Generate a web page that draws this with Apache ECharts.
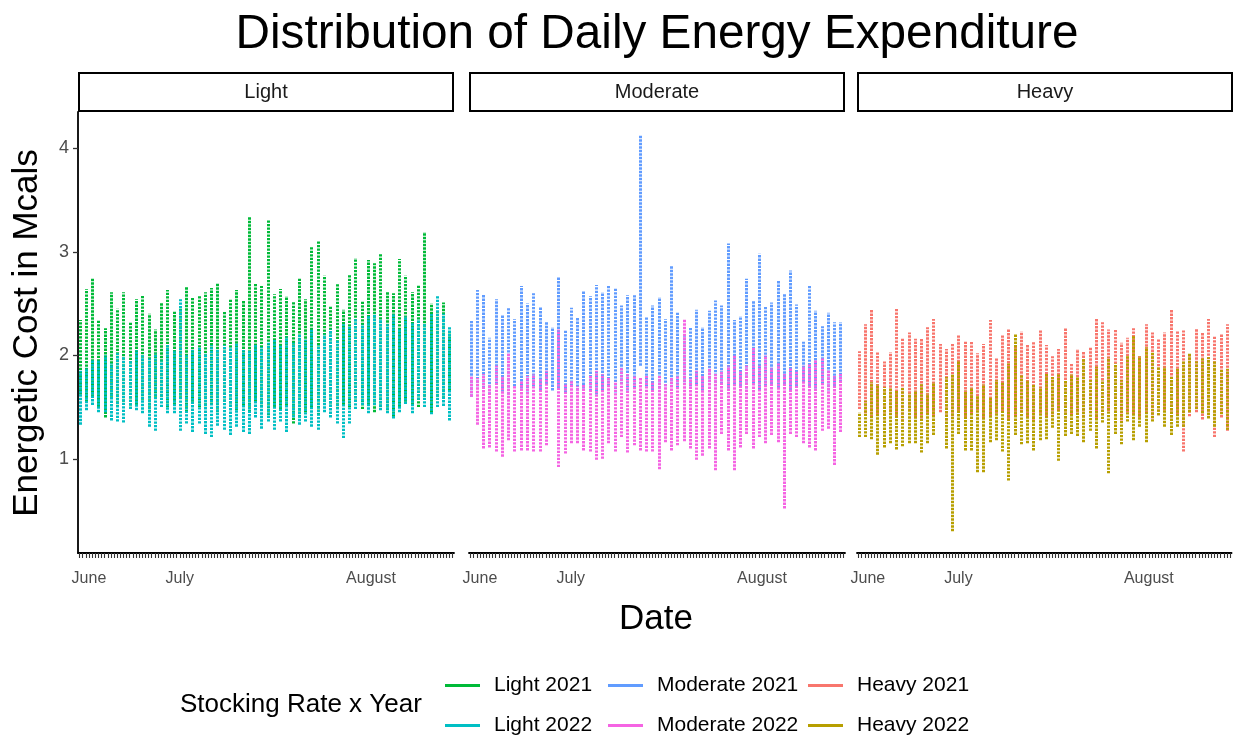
<!DOCTYPE html>
<html>
<head>
<meta charset="utf-8">
<script src="https://cdn.jsdelivr.net/npm/echarts@6/dist/echarts.min.js"></script>
<style>
html,body{margin:0;padding:0;background:#fff;}
#chart{width:1233px;height:738px;}
</style>
</head>
<body>
<div id="chart"></div>
<script>
// ---- axis categories: 120 daily slots, measurements on every second slot ----
const slotCount = 120;
const monthLabels = ['June', 'July', 'August'];
const monthSlots = [3, 32, 93];
const stripSlots = [0,2,4,6,8,10,12,14,16,18,20,22,24,26,28,30,32,34,36,38,40,42,44,46,48,50,52,54,56,58,
  60,62,64,66,68,70,72,74,76,78,80,82,84,86,88,90,92,94,96,98,100,102,104,106,108,110,112,114,116,118];
const yTicks = [1, 2, 3, 4];

const panels = ['Light', 'Moderate', 'Heavy'];
const seriesNames = ['Light 2021', 'Light 2022', 'Moderate 2021', 'Moderate 2022', 'Heavy 2021', 'Heavy 2022'];

// ---- daily min / max energetic cost (Mcal) per strip ----
const light2021Lo = [1.62,1.55,1.60,1.50,1.40,1.58,1.50,1.55,1.48,1.52,1.57,1.45,1.60,1.60,1.50,1.52,1.58,1.45,1.55,1.50,1.48,1.52,1.45,1.55,1.50,1.47,1.52,1.45,1.55,1.50,1.42,1.50,1.48,1.52,1.34,1.40,1.45,1.50,1.42,1.55,1.50,1.48,1.52,1.50,1.55,1.48,1.52,1.45,1.50,1.47,1.40,1.50,1.55,1.52,1.50,1.60,1.45,1.60,1.58,1.65];
const light2021Hi = [2.34,2.64,2.74,2.34,2.26,2.61,2.45,2.61,2.32,2.54,2.58,2.40,2.25,2.51,2.63,2.42,2.47,2.66,2.56,2.57,2.61,2.65,2.69,2.42,2.54,2.63,2.53,3.34,2.69,2.67,3.31,2.59,2.64,2.57,2.52,2.74,2.54,3.05,3.10,2.77,2.48,2.69,2.44,2.78,2.94,2.53,2.92,2.89,2.98,2.61,2.60,2.93,2.77,2.61,2.68,3.19,2.50,2.42,2.51,2.21];
const light2022Lo = [1.33,1.47,1.52,1.45,1.45,1.37,1.36,1.35,1.48,1.47,1.44,1.31,1.27,1.50,1.44,1.44,1.27,1.34,1.26,1.34,1.24,1.21,1.32,1.28,1.23,1.31,1.26,1.24,1.40,1.29,1.36,1.28,1.36,1.26,1.40,1.33,1.36,1.31,1.28,1.45,1.40,1.34,1.20,1.34,1.48,1.52,1.44,1.52,1.47,1.44,1.39,1.45,1.53,1.44,1.57,1.50,1.43,1.50,1.51,1.37];
const light2022Hi = [1.85,1.88,1.95,1.95,2.00,1.92,2.02,1.98,1.95,2.05,2.00,1.97,2.02,1.95,2.10,2.05,2.54,2.00,2.05,2.08,2.02,2.10,2.05,2.10,2.08,2.12,2.05,2.05,2.10,2.08,2.12,2.15,2.10,2.18,2.12,2.20,2.15,2.25,2.10,2.20,2.25,2.15,2.30,2.28,2.35,2.30,2.38,2.40,2.35,2.30,2.40,2.25,2.38,2.32,2.35,2.30,2.40,2.58,2.40,2.27];

const moderate2021Lo = [1.60,1.70,1.68,1.62,1.72,1.65,1.62,1.70,1.68,1.65,1.70,1.66,1.72,1.66,1.68,1.64,1.70,1.66,1.68,1.65,1.62,1.66,1.70,1.64,1.72,1.66,1.68,1.90,1.70,1.66,1.68,1.70,1.72,1.68,1.74,1.70,1.72,1.66,1.74,1.70,1.72,1.68,1.72,1.70,1.68,1.72,1.66,1.70,1.72,1.68,1.72,1.66,1.70,1.74,1.70,1.68,1.72,1.66,1.70,1.74];
const moderate2021Hi = [2.33,2.63,2.59,2.17,2.54,2.39,2.46,2.35,2.67,2.50,2.60,2.47,2.32,2.27,2.76,2.25,2.46,2.36,2.62,2.57,2.68,2.61,2.68,2.65,2.48,2.58,2.58,4.12,2.37,2.48,2.56,2.35,2.86,2.41,2.21,2.27,2.44,2.27,2.43,2.53,2.48,3.08,2.34,2.38,2.74,2.53,2.98,2.47,2.51,2.72,2.60,2.82,2.49,2.13,2.67,2.43,2.28,2.41,2.32,2.32];
const moderate2022Lo = [1.60,1.33,1.10,1.11,1.07,1.02,1.18,1.07,1.08,1.08,1.07,1.07,1.13,null,0.92,1.05,1.15,1.15,1.08,1.07,0.99,1.00,1.15,1.07,1.21,1.06,1.13,1.08,1.07,1.07,0.90,1.16,1.08,1.13,1.17,1.10,0.99,1.03,1.10,0.89,1.24,1.08,0.89,1.11,1.24,1.10,1.21,1.15,1.23,1.16,0.52,1.24,1.21,1.15,1.11,1.08,1.27,1.29,0.94,1.26];
const moderate2022Hi = [1.80,1.78,1.82,1.72,1.90,1.80,2.02,1.70,1.75,1.80,1.82,1.78,1.85,null,2.25,1.72,1.75,1.70,1.72,1.80,1.85,1.82,1.78,1.75,1.88,1.82,1.80,1.78,1.80,1.75,1.80,1.72,1.78,1.80,2.35,1.78,1.85,1.80,1.88,1.82,1.85,1.90,2.00,1.85,1.90,2.08,1.90,2.00,1.88,1.92,1.82,1.88,1.85,1.90,1.92,1.95,1.98,1.85,1.80,1.82];

const heavy2021Lo = [1.48,1.44,1.40,1.43,1.38,1.45,1.41,1.36,1.46,1.40,1.39,1.44,1.42,1.45,1.37,1.41,1.46,1.40,1.43,1.47,1.39,1.41,1.44,1.46,1.38,1.42,1.45,1.40,1.36,1.44,1.41,1.43,1.47,1.39,1.42,1.45,1.40,1.44,1.38,1.42,1.46,1.41,1.37,1.45,1.43,1.40,1.44,1.39,1.42,1.47,1.40,1.43,1.07,1.41,1.45,1.38,1.42,1.21,1.40,1.27];
const heavy2021Hi = [2.04,2.30,2.44,2.03,1.94,2.03,2.45,2.16,2.22,2.16,2.16,2.27,2.35,2.11,2.06,2.11,2.19,2.13,2.14,2.02,2.11,2.34,1.97,2.19,2.25,2.08,2.23,2.10,2.13,2.24,2.10,1.99,2.06,2.26,1.92,2.06,2.04,2.08,2.36,2.32,2.25,2.25,2.12,2.17,2.26,1.99,2.30,2.22,2.16,2.22,2.44,2.23,2.24,2.02,2.26,2.22,2.35,2.18,2.21,2.30];
const heavy2022Lo = [1.21,1.21,1.19,1.04,1.11,1.15,1.09,1.12,1.15,1.15,1.06,1.15,1.23,null,1.10,0.30,1.24,1.08,1.08,0.87,0.87,1.16,1.18,1.07,0.79,1.23,1.14,1.15,1.08,1.18,1.19,1.30,0.98,1.22,1.24,1.22,1.16,1.27,1.10,1.35,0.86,1.24,1.14,1.36,1.18,1.31,1.16,1.36,1.42,1.31,1.23,1.31,1.31,1.45,1.48,1.44,1.39,1.31,1.43,1.28];
const heavy2022Hi = [1.45,1.56,1.74,1.72,1.69,1.68,1.66,1.69,1.63,1.66,1.72,1.63,1.74,null,1.79,1.82,1.95,1.66,1.69,1.61,1.72,1.60,1.76,1.74,1.92,2.21,1.81,1.76,1.72,1.69,1.82,1.79,1.82,1.76,1.82,1.79,1.97,1.76,1.89,1.76,1.98,1.92,1.76,2.00,2.19,1.99,2.08,2.03,1.89,1.89,1.79,1.87,1.94,2.02,1.94,1.97,1.98,1.94,1.87,1.87];

// ---- styling ----
const colors = {
  'Light 2021': '#00BA38', 'Light 2022': '#00BFC4',
  'Moderate 2021': '#619CFF', 'Moderate 2022': '#F564E3',
  'Heavy 2021': '#F8766D', 'Heavy 2022': '#B79F00'
};
const FONT = '"Liberation Sans", Arial, Helvetica, sans-serif';
const gridBoxes = [
  {left: 78, width: 376},
  {left: 469, width: 376},
  {left: 857, width: 376}
];
const gridTop = 112, gridHeight = 441;
const yMin = 0.09, yMax = 4.35;

const slotNames = [];
for (let i = 0; i < slotCount; i++) slotNames.push(String(i));
const labelAt = {};
monthSlots.forEach((s, k) => { labelAt[s] = monthLabels[k]; });

const seriesDefs = [
  {name: 'Light 2021', grid: 0, lo: light2021Lo, hi: light2021Hi},
  {name: 'Light 2022', grid: 0, lo: light2022Lo, hi: light2022Hi},
  {name: 'Moderate 2021', grid: 1, lo: moderate2021Lo, hi: moderate2021Hi},
  {name: 'Moderate 2022', grid: 1, lo: moderate2022Lo, hi: moderate2022Hi},
  {name: 'Heavy 2021', grid: 2, lo: heavy2021Lo, hi: heavy2021Hi},
  {name: 'Heavy 2022', grid: 2, lo: heavy2022Lo, hi: heavy2022Hi}
];

const series = seriesDefs.map(def => {
  const data = [];
  def.lo.forEach((l, i) => {
    if (l == null || def.hi[i] == null) return;
    data.push([stripSlots[i], l, def.hi[i]]);
  });
  const color = colors[def.name];
  return {
    name: def.name,
    type: 'custom',
    xAxisIndex: def.grid,
    yAxisIndex: def.grid,
    itemStyle: {color: color},
    encode: {x: 0, y: [1, 2]},
    data: data,
    silent: true,
    renderItem: function (params, api) {
      const x = api.value(0);
      const p1 = api.coord([x, api.value(1)]);
      const p2 = api.coord([x, api.value(2)]);
      const px = Math.round(p1[0]) + 0.5;
      return {
        type: 'line',
        shape: {x1: px, y1: p1[1], x2: px, y2: p2[1]},
        style: {stroke: color, lineWidth: 3, lineDash: [2.4, 1.1]}
      };
    }
  };
});

const grids = gridBoxes.map(g => ({left: g.left, width: g.width, top: gridTop, height: gridHeight, containLabel: false}));

const xAxes = gridBoxes.map((g, gi) => ({
  type: 'category',
  gridIndex: gi,
  data: slotNames,
  boundaryGap: true,
  axisLine: {show: true, lineStyle: {color: '#000', width: 1.8}},
  axisTick: {show: true, interval: 0, alignWithLabel: true, length: 5, lineStyle: {color: '#333', width: 1.1}},
  axisLabel: {
    show: true, interval: 0, color: '#4d4d4d', fontSize: 16, fontFamily: FONT, margin: 18,
    formatter: function (v, idx) { return labelAt[idx] || ''; }
  },
  splitLine: {show: false}
}));

const yAxes = gridBoxes.map((g, gi) => ({
  type: 'value',
  gridIndex: gi,
  min: yMin,
  max: yMax,
  show: gi === 0,
  axisLine: {show: true, lineStyle: {color: '#000', width: 1.8}},
  axisTick: {show: true, length: 5, customValues: yTicks, lineStyle: {color: '#333', width: 1.3}},
  axisLabel: {show: true, customValues: yTicks, color: '#4d4d4d', fontSize: 18, fontFamily: FONT, margin: 9},
  splitLine: {show: false}
}));

const stripHeaders = [];
gridBoxes.forEach((g, gi) => {
  stripHeaders.push({
    type: 'rect',
    shape: {x: g.left + 1, y: 73, width: g.width - 2, height: 38},
    style: {fill: '#fff', stroke: '#000', lineWidth: 2}
  });
  stripHeaders.push({
    type: 'text',
    x: g.left + g.width / 2, y: 92,
    style: {text: panels[gi], fill: '#1a1a1a', font: '20px ' + FONT, textAlign: 'center', textVerticalAlign: 'middle'}
  });
});

const textEls = [
  {type: 'text', x: 657, y: 35, style: {text: 'Distribution of Daily Energy Expenditure', fill: '#000', font: '47.7px ' + FONT, textAlign: 'center', textVerticalAlign: 'middle'}},
  {type: 'text', x: 27, y: 333, rotation: Math.PI / 2, style: {text: 'Energetic Cost in Mcals', fill: '#000', font: '35px ' + FONT, textAlign: 'center', textVerticalAlign: 'middle'}},
  {type: 'text', x: 656, y: 619, style: {text: 'Date', fill: '#000', font: '35px ' + FONT, textAlign: 'center', textVerticalAlign: 'middle'}},
  {type: 'text', x: 180, y: 705, style: {text: 'Stocking Rate x Year', fill: '#000', font: '26px ' + FONT, textAlign: 'left', textVerticalAlign: 'middle'}}
];

// legend laid out column-wise like ggplot: one legend component per key
const legendLefts = [445, 445, 608, 608, 808, 808];
const legendTops = [675, 715, 675, 715, 675, 715];
const legends = seriesNames.map((n, k) => ({
  top: legendTops[k], left: legendLefts[k], orient: 'horizontal', padding: 0,
  icon: 'rect', itemWidth: 35, itemHeight: 3,
  selectedMode: false,
  textStyle: {fontSize: 21, fontFamily: FONT, color: '#000', padding: [0, 0, 0, 9]},
  data: [n]
}));

const chart = echarts.init(document.getElementById('chart'), null, {renderer: 'canvas'});
chart.setOption({
  animation: false,
  backgroundColor: '#fff',
  grid: grids,
  xAxis: xAxes,
  yAxis: yAxes,
  legend: legends,
  graphic: {elements: stripHeaders.concat(textEls)},
  series: series
});
</script>
</body>
</html>
